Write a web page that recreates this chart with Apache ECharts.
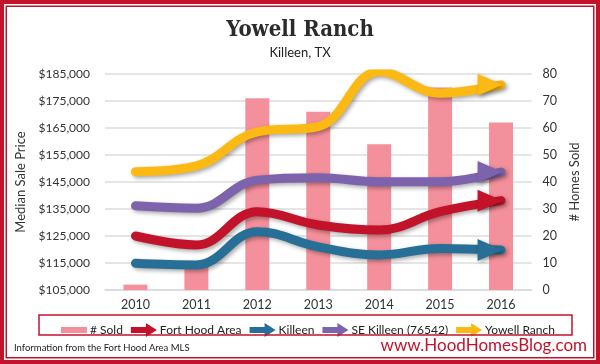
<!DOCTYPE html>
<html><head><meta charset="utf-8">
<script src="https://cdn.jsdelivr.net/npm/echarts@6/dist/echarts.min.js"></script>
<style>html,body{margin:0;padding:0;background:#fff}#c{width:600px;height:364px}</style>
</head><body><div id="c"></div>
<script>
const years = ['2010','2011','2012','2013','2014','2015','2016'];
const homesSold = [2, 9, 71, 66, 54, 75, 62];
const fortHoodArea = [125000, 121700, 134000, 129100, 127200, 134000, 138100];
const killeen = [114900, 114300, 126600, 121000, 118000, 120400, 119800];
const seKilleen = [136200, 135300, 145700, 146600, 145100, 145100, 148700];
const yowellRanch = [148800, 151000, 163600, 165500, 185900, 177900, 181000];
const priceTicks = {min: 105000, max: 185000, interval: 10000};
const soldTicks = {min: 0, max: 80, interval: 10};

const RED = '#C2132B', BLUE = '#276F96', PURPLE = '#7C63AC', YELLOW = '#FDB913', PINK = '#F4909B';
const FONT = 'Lato';
const arrowIcon = 'path://M0,4L15,4L15,0L26,7L15,14L15,10L0,10Z';
const barIcon = 'path://M0,0L0.01,0L0,0.01Z M0,4L26,4L26,10L0,10Z M26,14L25.99,14L26,13.99Z';

function lineSeries(name, data, color) {
  const d = data.map((v, i) => i === data.length - 1
    ? {value: v, symbol: 'triangle', symbolSize: [22, 25], symbolRotate: -90, symbolOffset: [-11, 0],
       itemStyle: {color: color, shadowBlur: 4, shadowColor: 'rgba(0,0,0,0.35)', shadowOffsetX: 2, shadowOffsetY: 2}}
    : {value: v, symbol: 'none'});
  return {
    name, type: 'line', yAxisIndex: 0, data: d, smooth: 0.4, z: 3,
    showSymbol: true, symbol: 'none', color,
    lineStyle: {width: 9, color, cap: 'round', shadowBlur: 4, shadowColor: 'rgba(0,0,0,0.35)', shadowOffsetX: 2, shadowOffsetY: 2},
    emphasis: {disabled: true}, animation: false
  };
}

const chart = echarts.init(document.getElementById('c'), null, {renderer: 'canvas'});
chart.setOption({
  animation: false,
  backgroundColor: '#fff',
  title: {
    text: 'Yowell Ranch', subtext: 'Killeen, TX', left: 'center', top: 14, itemGap: 5,
    textStyle: {fontFamily: 'DejaVu Serif Condensed', fontWeight: 'bold', fontSize: 22, color: '#2b2b2b'},
    subtextStyle: {fontFamily: FONT, fontSize: 13, color: '#222'}
  },
  grid: {left: 105, right: 68.5, top: 74, bottom: 74},
  legend: {
    left: 56, top: 318, width: 540, itemWidth: 26, itemHeight: 14, itemGap: 8,
    textStyle: {fontFamily: FONT, fontSize: 12, color: '#222', padding: [0, 0, 0, -2]},
    data: [
      {name: '# Sold', icon: barIcon},
      {name: 'Fort Hood Area', icon: arrowIcon},
      {name: 'Killeen', icon: arrowIcon},
      {name: 'SE Killeen (76542)', icon: arrowIcon},
      {name: 'Yowell Ranch', icon: arrowIcon}
    ]
  },
  xAxis: {
    type: 'category', data: years,
    axisLine: {show: true, lineStyle: {color: '#d9d9d9', width: 1.5}},
    axisTick: {show: false},
    axisLabel: {fontFamily: FONT, fontSize: 12.5, color: '#333', margin: 8}
  },
  yAxis: [
    {
      type: 'value', min: priceTicks.min, max: priceTicks.max, interval: priceTicks.interval,
      name: 'Median Sale Price', nameLocation: 'middle', nameGap: 63, nameRotate: 90,
      nameTextStyle: {fontFamily: FONT, fontSize: 13, color: '#333'},
      axisLine: {show: false}, axisTick: {show: false},
      axisLabel: {fontFamily: FONT, fontSize: 12, color: '#333', margin: 15,
        formatter: v => '$' + v.toLocaleString('en-US')},
      splitLine: {lineStyle: {color: '#dcdcdc', width: 1.5}}
    },
    {
      type: 'value', min: soldTicks.min, max: soldTicks.max, interval: soldTicks.interval,
      name: '# Homes Sold', nameLocation: 'middle', nameGap: 27, nameRotate: 90,
      nameTextStyle: {fontFamily: FONT, fontSize: 13, color: '#333'},
      axisLine: {show: false}, axisTick: {show: false},
      axisLabel: {fontFamily: FONT, fontSize: 12.5, color: '#333', margin: 11},
      splitLine: {show: false}
    }
  ],
  series: [
    {name: '# Sold', type: 'bar', yAxisIndex: 1, data: homesSold, barWidth: 24, z: 2,
     itemStyle: {color: PINK}, color: PINK, emphasis: {disabled: true}},
    lineSeries('Fort Hood Area', fortHoodArea, RED),
    lineSeries('Killeen', killeen, BLUE),
    lineSeries('SE Killeen (76542)', seKilleen, PURPLE),
    lineSeries('Yowell Ranch', yowellRanch, YELLOW)
  ],
  graphic: [
    {type: 'rect', silent: true, z: 100, shape: {x: 2, y: 2, width: 596, height: 360},
     style: {fill: 'none', stroke: RED, lineWidth: 4}},
    {type: 'rect', silent: true, z: 100, shape: {x: 6.25, y: 6.25, width: 587.5, height: 351.5},
     style: {fill: 'none', stroke: RED, lineWidth: 1.5}},
    {type: 'rect', silent: true, z: 100, shape: {x: 39, y: 315, width: 533, height: 20},
     style: {fill: 'none', stroke: RED, lineWidth: 1.5}},
    {type: 'text', silent: true, z: 100, left: 14, top: 343,
     style: {text: 'Information from the Fort Hood Area MLS', fontFamily: FONT, fontSize: 9.5, fill: '#222'}},
    {type: 'text', silent: true, z: 100, right: 13, top: 337,
     style: {text: 'www.HoodHomesBlog.com', fontFamily: FONT, fontSize: 17, fill: RED}}
  ]
});
</script></body></html>
